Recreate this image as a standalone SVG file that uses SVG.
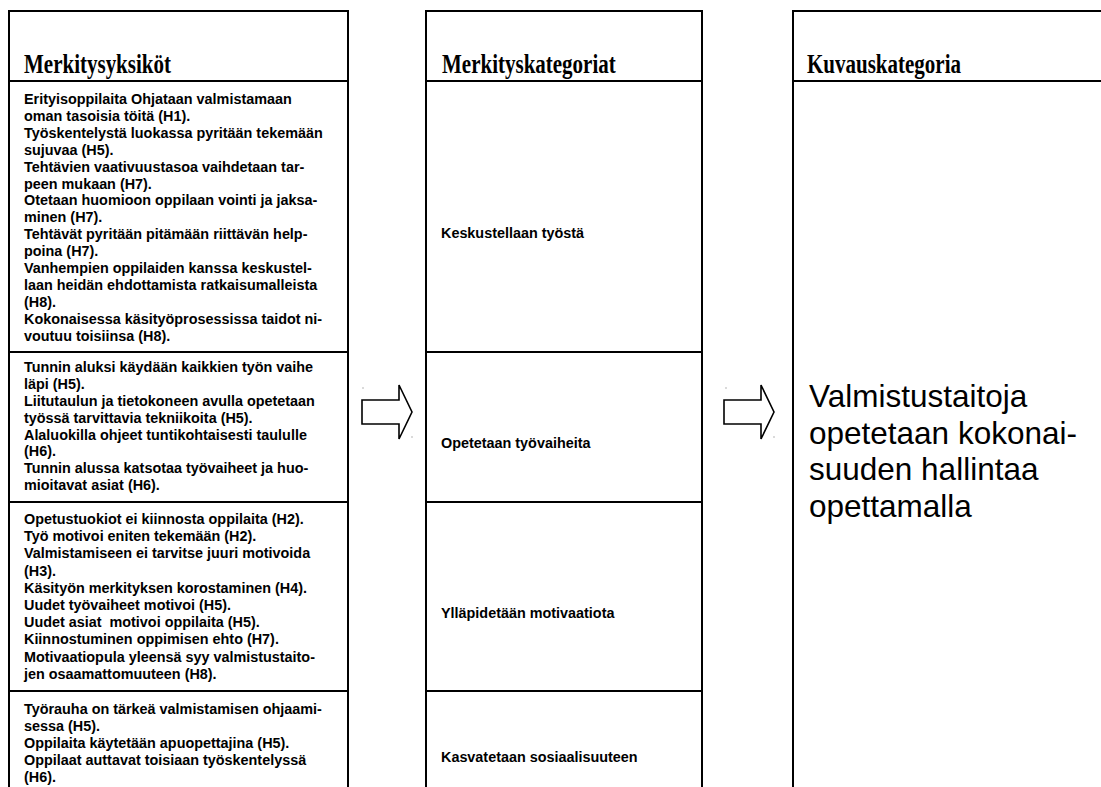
<svg xmlns="http://www.w3.org/2000/svg" width="1101" height="787" viewBox="0 0 1101 787">
  <style>
    .frame { fill: none; stroke: #000; stroke-width: 2; }
    .rule { stroke: #000; stroke-width: 2; }
    .head { font-family: "Liberation Serif", "Times New Roman", serif; font-weight: bold; font-size: 21px; fill: #000; }
    .body { font-family: "Liberation Sans", Arial, sans-serif; font-weight: bold; font-size: 14.4px; fill: #000; }
    .big { font-family: "Liberation Sans", Arial, sans-serif; font-size: 31.5px; fill: #000; }
    .arrow { fill: #fff; stroke: #000; stroke-width: 1.6; stroke-linejoin: miter; }
    .speck { fill: #999; }
  </style>

  <rect width="1101" height="787" fill="#fff"/>

  <!-- Column frames and header rows -->
  <g id="col-units">
    <rect class="frame" x="9" y="11" width="339" height="790"/>
    <line class="rule" x1="9" y1="81" x2="348" y2="81"/>
    <line class="rule" x1="9" y1="352" x2="348" y2="352"/>
    <line class="rule" x1="9" y1="502" x2="348" y2="502"/>
    <line class="rule" x1="9" y1="691" x2="348" y2="691"/>
    <text class="head" transform="translate(24 73) scale(1 1.25)">Merkitysyksiköt</text>
  </g>

  <g id="col-categories">
    <rect class="frame" x="426" y="11" width="276" height="790"/>
    <line class="rule" x1="426" y1="81" x2="702" y2="81"/>
    <line class="rule" x1="426" y1="352" x2="702" y2="352"/>
    <line class="rule" x1="426" y1="502" x2="702" y2="502"/>
    <line class="rule" x1="426" y1="691" x2="702" y2="691"/>
    <text class="head" transform="translate(442 73) scale(1 1.25)">Merkityskategoriat</text>
  </g>

  <g id="col-description">
    <rect class="frame" x="793" y="11" width="330" height="790"/>
    <line class="rule" x1="793" y1="81" x2="1101" y2="81"/>
    <text class="head" transform="translate(807 73) scale(1 1.25)">Kuvauskategoria</text>
  </g>

  <!-- Cell texts, slightly tall glyphs -->
  <g transform="scale(1 1.08)">
    <g id="units-1">
      <text class="body" y="96.3">
        <tspan x="24">Erityisoppilaita Ohjataan valmistamaan</tspan>
        <tspan x="24" dy="15.65">oman tasoisia töitä (H1).</tspan>
        <tspan x="24" dy="15.65">Työskentelystä luokassa pyritään tekemään</tspan>
        <tspan x="24" dy="15.65">sujuvaa (H5).</tspan>
        <tspan x="24" dy="15.65">Tehtävien vaativuustasoa vaihdetaan tar-</tspan>
        <tspan x="24" dy="15.65">peen mukaan (H7).</tspan>
        <tspan x="24" dy="15.65">Otetaan huomioon oppilaan vointi ja jaksa-</tspan>
        <tspan x="24" dy="15.65">minen (H7).</tspan>
        <tspan x="24" dy="15.65">Tehtävät pyritään pitämään riittävän help-</tspan>
        <tspan x="24" dy="15.65">poina (H7).</tspan>
        <tspan x="24" dy="15.65">Vanhempien oppilaiden kanssa keskustel-</tspan>
        <tspan x="24" dy="15.65">laan heidän ehdottamista ratkaisumalleista</tspan>
        <tspan x="24" dy="15.65">(H8).</tspan>
        <tspan x="24" dy="15.65">Kokonaisessa käsityöprosessissa taidot ni-</tspan>
        <tspan x="24" dy="15.65">voutuu toisiinsa (H8).</tspan>
      </text>
    </g>
    <g id="units-2">
      <text class="body" y="344.4">
        <tspan x="24">Tunnin aluksi käydään kaikkien työn vaihe</tspan>
        <tspan x="24" dy="15.65">läpi (H5).</tspan>
        <tspan x="24" dy="15.65">Liitutaulun ja tietokoneen avulla opetetaan</tspan>
        <tspan x="24" dy="15.65">työssä tarvittavia tekniikoita (H5).</tspan>
        <tspan x="24" dy="15.65">Alaluokilla ohjeet tuntikohtaisesti taululle</tspan>
        <tspan x="24" dy="15.65">(H6).</tspan>
        <tspan x="24" dy="15.65">Tunnin alussa katsotaa työvaiheet ja huo-</tspan>
        <tspan x="24" dy="15.65">mioitavat asiat (H6).</tspan>
      </text>
    </g>
    <g id="units-3">
      <text class="body" y="485.2">
        <tspan x="24">Opetustuokiot ei kiinnosta oppilaita (H2).</tspan>
        <tspan x="24" dy="15.93">Työ motivoi eniten tekemään (H2).</tspan>
        <tspan x="24" dy="15.93">Valmistamiseen ei tarvitse juuri motivoida</tspan>
        <tspan x="24" dy="15.93">(H3).</tspan>
        <tspan x="24" dy="15.93">Käsityön merkityksen korostaminen (H4).</tspan>
        <tspan x="24" dy="15.93">Uudet työvaiheet motivoi (H5).</tspan>
        <tspan x="24" dy="15.93">Uudet asiat&#160; motivoi oppilaita (H5).</tspan>
        <tspan x="24" dy="15.93">Kiinnostuminen oppimisen ehto (H7).</tspan>
        <tspan x="24" dy="15.93">Motivaatiopula yleensä syy valmistustaito-</tspan>
        <tspan x="24" dy="15.93">jen osaamattomuuteen (H8).</tspan>
      </text>
    </g>
    <g id="units-4">
      <text class="body" y="661.1">
        <tspan x="24">Työrauha on tärkeä valmistamisen ohjaami-</tspan>
        <tspan x="24" dy="15.65">sessa (H5).</tspan>
        <tspan x="24" dy="15.65">Oppilaita käytetään apuopettajina (H5).</tspan>
        <tspan x="24" dy="15.65">Oppilaat auttavat toisiaan työskentelyssä</tspan>
        <tspan x="24" dy="15.65">(H6).</tspan>
      </text>
    </g>
    <g id="cat-1"><text class="body" x="441" y="220.4">Keskustellaan työstä</text></g>
    <g id="cat-2"><text class="body" x="441" y="414.8">Opetetaan työvaiheita</text></g>
    <g id="cat-3"><text class="body" x="441" y="572.2">Ylläpidetään motivaatiota</text></g>
    <g id="cat-4"><text class="body" x="441" y="705.6">Kasvatetaan sosiaalisuuteen</text></g>
  </g>

  <g id="description">
    <text class="big" x="809" y="407">Valmistustaitoja</text>
    <text class="big" x="809" y="444">opetetaan kokonai-</text>
    <text class="big" x="809" y="480">suuden hallintaa</text>
    <text class="big" x="809" y="517">opettamalla</text>
  </g>

  <!-- Block arrows between columns -->
  <g id="connectors">
    <path class="arrow" d="M362 400 H399 V385 L412 412 L399 439 V424 H362 Z"/>
    <circle class="speck" cx="363" cy="388" r="0.7"/>
    <circle class="speck" cx="412" cy="437" r="0.7"/>
    <path class="arrow" d="M724 400 H761 V385 L774 412 L761 439 V424 H724 Z"/>
    <circle class="speck" cx="726" cy="388" r="0.7"/>
    <circle class="speck" cx="774" cy="437" r="0.7"/>
  </g>
</svg>
